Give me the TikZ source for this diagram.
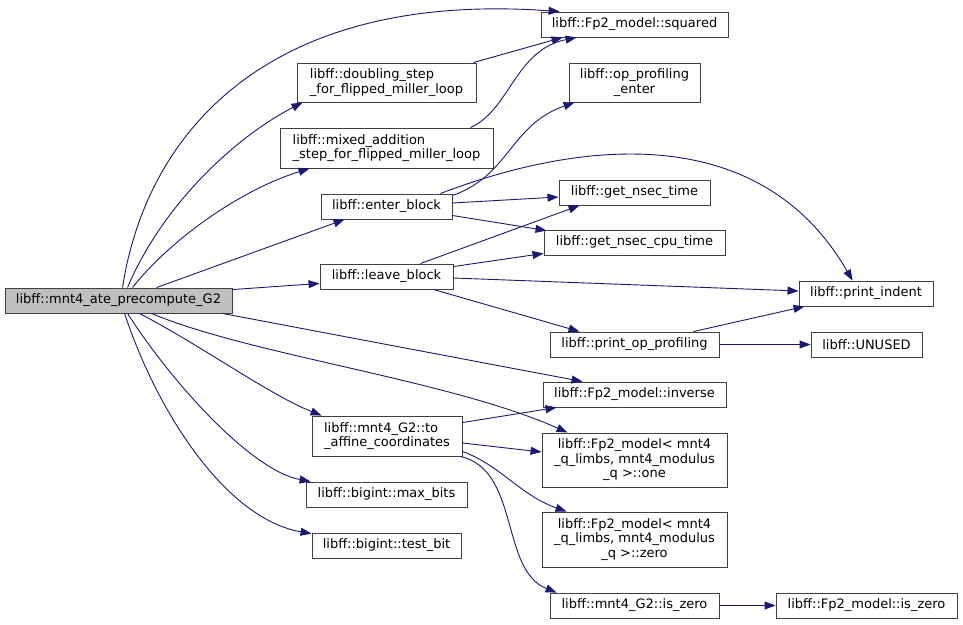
\documentclass[tikz,border=0pt]{standalone}
\usepackage{fontspec}
\setmainfont{DejaVu Sans}
\usetikzlibrary{arrows.meta,calc}
\definecolor{edgec}{HTML}{191970}
\definecolor{mainfill}{HTML}{BFBFBF}
\definecolor{boxline}{HTML}{404040}
\tikzset{
  box/.style={draw=boxline, line width=0.9pt, fill=white, inner sep=0pt,
    font=\fontsize{13}{14.5}\selectfont, align=center},
  lbox/.style={box, align=left},
  mainbox/.style={box, fill=mainfill},
  link/.style={draw=edgec, line width=0.9pt, -{Triangle[length=11pt,width=8pt]}}
}
\newcommand\mkbox[7][box]{\node[#1, minimum width={(#5-#3)*1pt}, minimum height={(#6-#4)*1pt}] (#2) at ({(#3+#5)/2},{(#4+#6)/2}) {#7};}
\begin{document}
\begin{tikzpicture}[x=1pt,y=-1pt]
\useasboundingbox (0,0) rectangle (963,624);
\mkbox[mainbox]{main}{5}{288}{232}{313}{libff::mnt4\_ate\_precompute\_G2}
\mkbox{sq}{541}{12}{728}{37}{libff::Fp2\_model::squared}
\mkbox[lbox]{dbl}{297}{63}{476}{102}{libff::doubling\_step\\\_for\_flipped\_miller\_loop}
\mkbox[lbox]{mix}{280}{128}{493}{168}{libff::mixed\_addition\\\_step\_for\_flipped\_miller\_loop}
\mkbox{enter}{321}{194}{452}{219}{libff::enter\_block}
\mkbox{leave}{320}{264}{453}{289}{libff::leave\_block}
\mkbox{ope}{569}{63}{700}{102}{libff::op\_profiling\\\_enter}
\mkbox{gnt}{559}{180}{710}{205}{libff::get\_nsec\_time}
\mkbox{gct}{544}{230}{725}{255}{libff::get\_nsec\_cpu\_time}
\mkbox{pind}{799}{281}{933}{306}{libff::print\_indent}
\mkbox{pop}{550}{332}{719}{357}{libff::print\_op\_profiling}
\mkbox{unused}{811}{332}{922}{357}{libff::UNUSED}
\mkbox{inv}{543}{382}{726}{407}{libff::Fp2\_model::inverse}
\mkbox{one}{542}{433}{727}{487}{libff::Fp2\_model< mnt4\\\_q\_limbs, mnt4\_modulus\\\_q >::one}
\mkbox{zero}{542}{512}{727}{567}{libff::Fp2\_model< mnt4\\\_q\_limbs, mnt4\_modulus\\\_q >::zero}
\mkbox{isz}{550}{593}{719}{618}{libff::mnt4\_G2::is\_zero}
\mkbox{fisz}{776}{593}{957}{618}{libff::Fp2\_model::is\_zero}
\mkbox[lbox]{aff}{312}{416}{462}{456}{libff::mnt4\_G2::to\\\_affine\_coordinates}
\mkbox{maxb}{306}{482}{467}{507}{libff::bigint::max\_bits}
\mkbox{testb}{312}{533}{461}{558}{libff::bigint::test\_bit}
% edges from main
\draw[link] ($(main.north west)+(118,0)$) .. controls (145,140) and (260,-10) .. ($(sq.north west)+(19,0)$);
\draw[link] ($(main.north west)+(123,0)$) .. controls (160,210) and (230,140) .. ($(dbl.south west)+(6,0)$);
\draw[link] ($(main.north west)+(128,0)$) .. controls (170,240) and (240,190) .. ($(mix.south west)+(30,0)$);
\draw[link] ($(main.north west)+(152,0)$) -- ($(enter.south west)+(24,0)$);
\draw[link] ($(main.north east)+(0,2)$) -- ($(leave.south west)+(0,-6)$);
\draw[link] ($(main.south east)+(-10,0)$) -- ($(inv.north west)+(40,0)$);
\draw[link] ($(main.south west)+(147,0)$) .. controls (250,355) and (450,380) .. ($(one.north west)+(26,0)$);
\draw[link] ($(main.south west)+(135,0)$) .. controls (200,345) and (270,395) .. ($(aff.north west)+(10,0)$);
\draw[link] ($(main.south west)+(123,0)$) .. controls (170,380) and (250,470) .. ($(maxb.north west)+(5,0)$);
\draw[link] ($(main.south west)+(120,0)$) .. controls (160,420) and (230,520) .. ($(testb.north west)+(0,1)$);
% doubling / mixed
\draw[link] ($(dbl.north east)+(-3,0)$) -- ($(sq.south west)+(22,0)$);
\draw[link] ($(mix.north east)+(-23,0)$) .. controls (510,110) and (515,50) .. ($(sq.south west)+(36,0)$);
% enter block
\draw[link] ($(enter.north east)+(0,2)$) .. controls (510,175) and (510,125) .. ($(ope.south west)+(6,0)$);
\draw[link] ($(enter.north east)+(-12,0)$) .. controls (580,140) and (760,120) .. ($(pind.north west)+(54,0)$);
\draw[link] ($(enter.east)+(0,-3.5)$) -- ($(gnt.west)+(0,4.5)$);
\draw[link] ($(enter.east)+(0,9)$) -- ($(gct.north west)+(3,1)$);
% leave block
\draw[link] ($(leave.north east)+(-33,0)$) -- ($(gnt.south west)+(21,0)$);
\draw[link] ($(leave.north east)+(0,3)$) -- ($(gct.south west)+(0,-2)$);
\draw[link] ($(leave.east)+(0,1.5)$) -- ($(pind.west)+(0,-2.5)$);
\draw[link] ($(leave.south east)+(-20,0)$) -- ($(pop.north west)+(30,0)$);
% print_op_profiling
\draw[link] ($(pop.north east)+(-26,0)$) -- ($(pind.south west)+(6,0)$);
\draw[link] (pop.east) -- (unused.west);
% to_affine
\draw[link] ($(aff.north east)+(0,7)$) -- ($(inv.south west)+(14,0)$);
\draw[link] ($(aff.east)+(0,7)$) -- ($(one.west)+(0,-8)$);
\draw[link] ($(aff.south east)+(0,-5)$) .. controls (500,465) and (520,495) .. ($(zero.north west)+(25,0)$);
\draw[link] ($(aff.south east)+(-2,0)$) .. controls (520,470) and (500,570) .. ($(isz.north west)+(7,0)$);
\draw[link] (isz.east) -- (fisz.west);
\end{tikzpicture}
\end{document}
